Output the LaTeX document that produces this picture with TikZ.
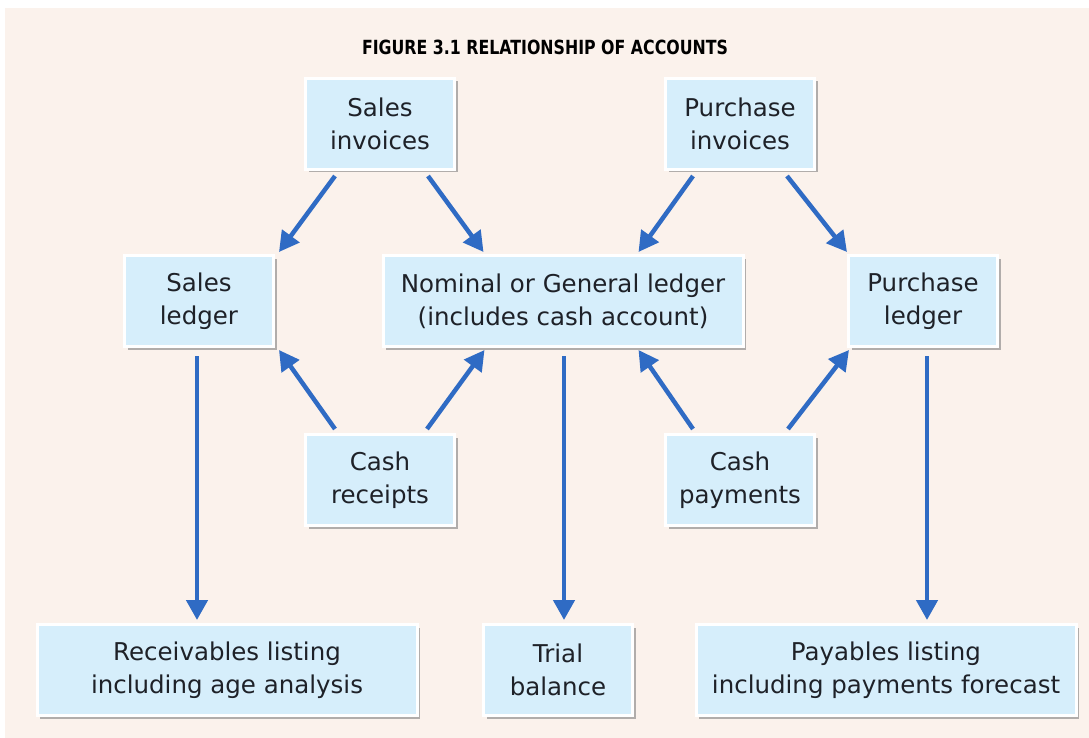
\documentclass[tikz,border=0pt]{standalone}
\usepackage{fontspec}
\setmainfont{DejaVu Sans}
\usetikzlibrary{arrows.meta,calc,shadows}

\definecolor{paper}{HTML}{FBF2EC}
\definecolor{boxfill}{HTML}{D6EEFB}
\definecolor{flow}{HTML}{2F6BC4}
\definecolor{ink}{HTML}{1E2128}

\tikzset{
  acct/.style={
    rectangle, draw=white, line width=3pt, fill=boxfill,
    minimum height=91pt, inner sep=0pt, align=center, text=ink,
    font=\fontsize{24.5}{33}\selectfont,
    drop shadow={shadow xshift=3pt, shadow yshift=-3pt, fill=black!50, opacity=.6}
  },
  small/.style={acct, minimum width=149pt},
  wide/.style={acct, minimum width=380pt},
  flowarrow/.style={draw=flow, line width=4.5pt,
    -{Triangle[length=20pt,width=21pt]}}
}

\begin{document}
\begin{tikzpicture}[x=1pt, y=-1pt]
  % page
  \useasboundingbox (0,0) rectangle (1089,738);
  \fill[white] (0,0) rectangle (1089,738);
  \fill[paper] (5,8) rectangle (1089,738);

  % heading, set in a narrowed bold face
  \node[font=\bfseries\fontsize{19.5}{22}\selectfont, text=black] (title) at (545,47)
    {\scalebox{0.81}[1]{FIGURE 3.1 RELATIONSHIP OF ACCOUNTS}};

  % source documents
  \node[small] (SI) at (380,124) {Sales\\invoices};
  \node[small] (PI) at (740,124) {Purchase\\invoices};

  % ledgers
  \node[small] (SL) at (199,301) {Sales\\ledger};
  \node[acct, minimum width=360pt] (NL) at (563,301)
    {Nominal or General ledger\\(includes cash account)};
  \node[small] (PL) at (923,301) {Purchase\\ledger};

  % cash books
  \node[small] (CR) at (380,480) {Cash\\receipts};
  \node[small] (CP) at (740,480) {Cash\\payments};

  % reports
  \node[wide] (RL) at (227,670) {Receivables listing\\including age analysis};
  \node[small] (TB) at (558,670) {Trial\\balance};
  \node[wide] (PY) at (886,670) {Payables listing\\including payments forecast};

  % postings from invoices
  \draw[flowarrow] ($(SI.south)+(-45,5)$) -- ($(SL.north east)+(4,-2)$);
  \draw[flowarrow] ($(SI.south)+(48,5)$) -- ($(NL.north west)+(102,-2)$);
  \draw[flowarrow] ($(PI.south)+(-47,5)$) -- ($(NL.north east)+(-106,-2)$);
  \draw[flowarrow] ($(PI.south)+(47,5)$) -- ($(PL.north west)+(0,-2)$);

  % postings from cash
  \draw[flowarrow] ($(CR.north)+(-45,-4)$) -- ($(SL.south east)+(4,2)$);
  \draw[flowarrow] ($(CR.north)+(47,-4)$) -- ($(NL.south west)+(103,2)$);
  \draw[flowarrow] ($(CP.north)+(-47,-4)$) -- ($(NL.south east)+(-106,2)$);
  \draw[flowarrow] ($(CP.north)+(48,-4)$) -- ($(PL.south west)+(2,2)$);

  % reports drawn from ledgers
  \draw[flowarrow] ($(SL.south)+(-2,8)$) -- ($(RL.north)+(-30,-3)$);
  \draw[flowarrow] ($(NL.south)+(1,8)$) -- ($(TB.north)+(6,-3)$);
  \draw[flowarrow] ($(PL.south)+(4,8)$) -- ($(PY.north)+(41,-3)$);
\end{tikzpicture}
\end{document}
